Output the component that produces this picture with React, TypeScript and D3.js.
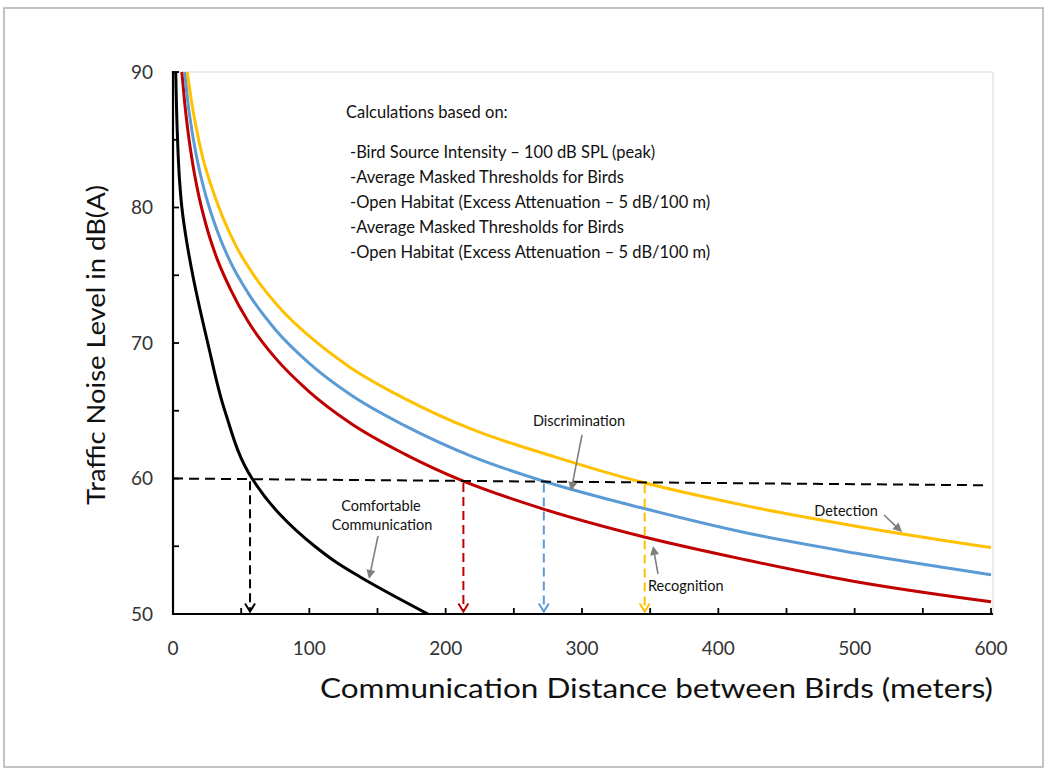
import React from "react";
import * as d3 from "d3";

// ---------- data ----------
const xTicks = [0, 100, 200, 300, 400, 500, 600];
const xMinorTicks = [50, 100, 150, 200, 250, 300, 350, 400, 450, 500, 550, 600];
const yTicks = [50, 60, 70, 80, 90];
const yMinorTicks = [55, 60, 65, 70, 75, 80, 85, 90];

const comfortD = [2, 3, 4.8, 6.5, 10, 14.5, 25.5, 38, 58, 78, 104, 120, 137, 187];
const comfortV = [90, 86, 82, 80, 77.5, 75, 70, 65, 60, 57.4, 55, 53.8, 52.75, 50];

const recognitionD = [6.5, 8.5, 11, 14, 18, 24, 32, 42, 55, 75, 100, 130, 170, 213, 270, 345, 420, 500, 600];
const recognitionV = [90, 87.8, 85.6, 83.5, 81.3, 78.8, 76.3, 74.0, 71.6, 68.9, 66.4, 64.1, 61.8, 59.8, 57.8, 55.7, 54.0, 52.4, 50.9];

const discriminationD = [8.6, 11, 14, 18, 24, 32, 42, 55, 75, 100, 130, 170, 220, 272, 345, 420, 500, 600];
const discriminationV = [90, 87.7, 85.6, 83.4, 80.9, 78.4, 76.0, 73.7, 71.0, 68.5, 66.2, 63.9, 61.6, 59.8, 57.8, 56.0, 54.5, 52.9];

const detectionD = [10.5, 13, 17, 22, 28, 36, 46, 60, 80, 100, 130, 170, 220, 280, 345, 420, 500, 600];
const detectionV = [90, 88.2, 85.9, 83.6, 81.6, 79.4, 77.2, 74.9, 72.4, 70.5, 68.2, 65.9, 63.6, 61.6, 59.7, 58.0, 56.5, 54.9];

const seriesNames = ["Comfortable Communication", "Recognition", "Discrimination", "Detection"];
const seriesColors = ["#000000", "#C00000", "#5B9BD5", "#FFC000"];

const thresholdStart = [0, 60];
const thresholdEnd = [600, 59.5];
const dropDistances = [56.5, 213, 272, 346];

const noteTitle = "Calculations based on:";
const noteLines = [
  "-Bird Source  Intensity \u2013 100 dB SPL (peak)",
  "-Average Masked Thresholds for Birds",
  "-Open Habitat (Excess Attenuation \u2013 5 dB/100 m)",
  "-Average Masked Thresholds for Birds",
  "-Open Habitat (Excess Attenuation \u2013 5 dB/100 m)",
];

const xTitle = "Communication Distance between Birds (meters)";
const yTitle = "Traffic Noise Level in dB(A)";

// ---------- layout ----------
const W = 1050;
const H = 771;
const plot = { left: 173, right: 991, top: 72, bottom: 614 };
const FONT = "Lato, 'Open Sans', 'DejaVu Sans', sans-serif";

export default function App() {
  const x = d3.scaleLinear().domain([0, 600]).range([plot.left, plot.right]);
  const y = d3.scaleLinear().domain([50, 90]).range([plot.bottom, plot.top]);

  const lineX = d3
    .line<[number, number]>()
    .x((p) => x(p[0]))
    .y((p) => y(p[1]))
    .curve(d3.curveMonotoneX);
  const lineY = d3
    .line<[number, number]>()
    .x((p) => x(p[0]))
    .y((p) => y(p[1]))
    .curve(d3.curveMonotoneY);

  const series = [
    { d: comfortD, v: comfortV, gen: lineY },
    { d: recognitionD, v: recognitionV, gen: lineX },
    { d: discriminationD, v: discriminationV, gen: lineX },
    { d: detectionD, v: detectionV, gen: lineX },
  ];

  const threshAt = (d: number) =>
    thresholdStart[1] +
    ((thresholdEnd[1] - thresholdStart[1]) * (d - thresholdStart[0])) / (thresholdEnd[0] - thresholdStart[0]);

  const grey = "#7f7f7f";

  const annotArrow = (x1: number, y1: number, x2: number, y2: number, key: string) => {
    const ang = Math.atan2(y2 - y1, x2 - x1);
    const len = 9;
    const wid = 4.5;
    const bx = x2 - len * Math.cos(ang);
    const by = y2 - len * Math.sin(ang);
    const px = -Math.sin(ang) * wid;
    const py = Math.cos(ang) * wid;
    return (
      <g key={key}>
        <line x1={x1} y1={y1} x2={bx} y2={by} stroke={grey} strokeWidth={1.6} />
        <path d={`M${x2},${y2}L${bx + px},${by + py}L${bx - px},${by - py}Z`} fill={grey} />
      </g>
    );
  };

  return (
    <svg
      width={W}
      height={H}
      style={{ position: "absolute", left: 0, top: 0, display: "block", background: "#fff" }}
      fontFamily={FONT}
    >
      <defs>
        <clipPath id="plotClip">
          <rect x={plot.left} y={plot.top - 1} width={plot.right - plot.left + 2} height={plot.bottom - plot.top + 1} />
        </clipPath>
      </defs>

      {/* outer frame */}
      <rect x={4} y={8} width={1039} height={759} fill="#fff" stroke="#b4b4b4" strokeWidth={1.6} />

      {/* plot area light border */}
      <line x1={plot.left} y1={plot.top} x2={plot.right + 2} y2={plot.top} stroke="#dcdcdc" strokeWidth={1.2} />
      <line x1={plot.right + 2} y1={plot.top} x2={plot.right + 2} y2={plot.bottom} stroke="#dcdcdc" strokeWidth={1.2} />

      {/* curves */}
      <g clipPath="url(#plotClip)">
        {series.map((s, i) => (
          <path
            key={seriesNames[i]}
            d={s.gen(s.d.map((d, j) => [d, s.v[j]] as [number, number])) || ""}
            fill="none"
            stroke={seriesColors[i]}
            strokeWidth={3}
          />
        ))}
      </g>

      {/* horizontal threshold dashed line */}
      <line
        x1={x(thresholdStart[0])}
        y1={y(thresholdStart[1])}
        x2={x(thresholdEnd[0]) - 3}
        y2={y(thresholdEnd[1])}
        stroke="#000"
        strokeWidth={2}
        strokeDasharray="10,6"
      />

      {/* vertical dashed drop arrows */}
      {dropDistances.map((d, i) => {
        const cx = x(d);
        const tipY = y(50) - 2.5;
        return (
          <g key={"drop" + i} stroke={seriesColors[i]} strokeWidth={2} fill="none">
            <line x1={cx} y1={y(threshAt(d)) + 2} x2={cx} y2={tipY} strokeDasharray="9,5" />
            <path d={`M${cx - 5},${tipY - 8}L${cx},${tipY}L${cx + 5},${tipY - 8}`} />
          </g>
        );
      })}

      {/* axes */}
      <line x1={plot.left} y1={plot.top - 1} x2={plot.left} y2={plot.bottom + 1} stroke="#000" strokeWidth={2.2} />
      <line x1={plot.left - 1} y1={plot.bottom} x2={plot.right + 2} y2={plot.bottom} stroke="#000" strokeWidth={2.2} />
      {yMinorTicks.map((t) => (
        <line key={"yt" + t} x1={plot.left} x2={plot.left + 6} y1={y(t)} y2={y(t)} stroke="#000" strokeWidth={1.8} />
      ))}
      {xMinorTicks.map((t) => (
        <line key={"xt" + t} x1={x(t)} x2={x(t)} y1={plot.bottom} y2={plot.bottom - 6} stroke="#000" strokeWidth={1.8} />
      ))}

      {/* tick labels */}
      {yTicks.map((t) => (
        <text key={"yl" + t} x={153} y={y(t)} dy="0.36em" textAnchor="end" fontSize={19} fill="#333">
          {t}
        </text>
      ))}
      {xTicks.map((t) => (
        <text key={"xl" + t} x={x(t)} y={655} textAnchor="middle" fontSize={19} fill="#333">
          {t}
        </text>
      ))}

      {/* axis titles */}
      <text x={320} y={698} fontSize={26} fill="#111" textLength={673} lengthAdjust="spacingAndGlyphs">
        {xTitle}
      </text>
      <text
        transform={`translate(105,505) rotate(-90)`}
        x={0}
        y={0}
        fontSize={25}
        fill="#111"
        textLength={320}
        lengthAdjust="spacingAndGlyphs"
      >
        {yTitle}
      </text>

      {/* calculation note */}
      <text x={346} y={118} fontSize={16.5} fill="#111">
        {noteTitle}
      </text>
      {noteLines.map((t, i) => (
        <text key={"n" + i} x={350} y={158 + i * 25} fontSize={16.5} fill="#111">
          {t}
        </text>
      ))}

      {/* series annotations */}
      <text x={579} y={426} fontSize={14.5} textAnchor="middle" fill="#111">
        {seriesNames[2]}
      </text>
      {annotArrow(582, 435, 571, 491, "a-disc")}

      <text x={381} y={511} fontSize={14.5} textAnchor="middle" fill="#111">
        Comfortable
      </text>
      <text x={382} y={530} fontSize={14.5} textAnchor="middle" fill="#111">
        Communication
      </text>
      {annotArrow(378, 536, 369, 579, "a-comf")}

      <text x={846} y={516} fontSize={14.5} textAnchor="middle" fill="#111">
        {seriesNames[3]}
      </text>
      {annotArrow(884, 515, 902, 532, "a-det")}

      <text x={648} y={591} fontSize={14.5} fill="#111">
        {seriesNames[1]}
      </text>
      {annotArrow(658, 574, 653, 546, "a-rec")}
    </svg>
  );
}
